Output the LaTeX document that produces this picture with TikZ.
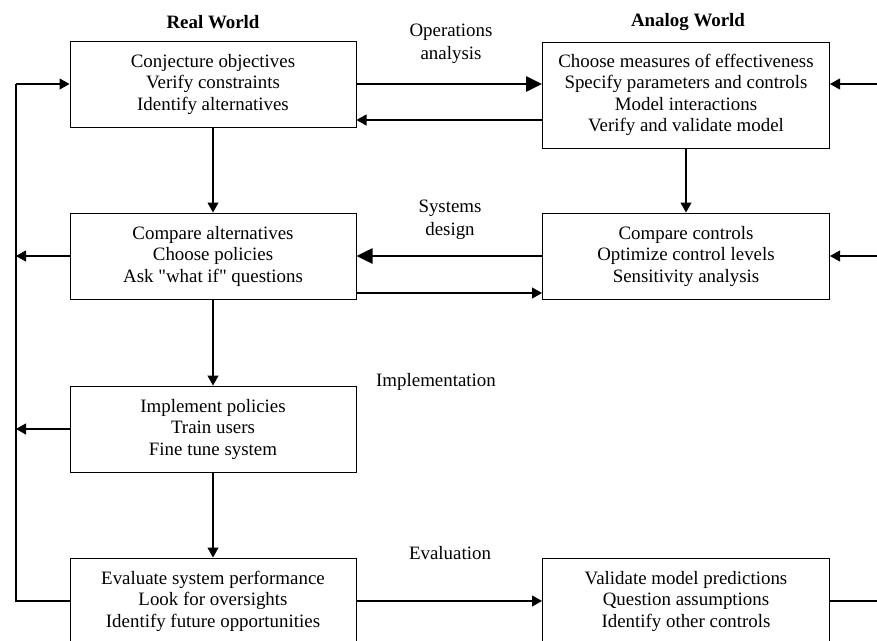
\documentclass[tikz,border=0pt]{standalone}
\usepackage{fontspec}
\setmainfont{Liberation Serif}
\usetikzlibrary{arrows.meta}
\begin{document}
\begin{tikzpicture}[x=1pt,y=-1pt,
  box/.style={draw, line width=1pt, minimum width=286pt, minimum height=86pt, inner sep=0pt, align=center,
              font=\fontsize{18.9}{21.5}\selectfont},
  lbl/.style={align=center, font=\fontsize{18.9}{23}\selectfont},
  hdr/.style={font=\fontsize{18.9}{22}\selectfont\bfseries},
  arr/.style={line width=1.1pt, -{Triangle[length=10pt,width=11pt]}},
  thickarr/.style={line width=2.6pt, -{Triangle[length=16pt,width=15pt]}},
  ln/.style={line width=1.1pt}]
\useasboundingbox (0,0) rectangle (877,640);

\node[hdr] (hr) at (213,22) {Real World};
\node[hdr] (ha) at (688,22) {Analog World};

\node[box] (A) at (213,84) {Conjecture objectives\\Verify constraints\\Identify alternatives};
\node[box, minimum width=287pt, minimum height=106pt] (B) at (686,95) {Choose measures of effectiveness\\Specify parameters and controls\\Model interactions\\Verify and validate model};
\node[box] (C) at (213,256) {Compare alternatives\\Choose policies\\Ask \textquotedbl what if\textquotedbl{} questions};
\node[box, minimum width=287pt] (D) at (686,256) {Compare controls\\Optimize control levels\\Sensitivity analysis};
\node[box] (I) at (213,429) {Implement policies\\Train users\\Fine tune system};
\node[box] (E) at (213,601) {Evaluate system performance\\Look for oversights\\Identify future opportunities};
\node[box, minimum width=287pt] (V) at (686,601) {Validate model predictions\\Question assumptions\\Identify other controls};

\node[lbl] (l1) at (451,44) {Operations\\analysis};
\node[lbl] (l2) at (450,220) {Systems\\design};
\node[lbl] (l3) at (436,382) {Implementation};
\node[lbl] (l4) at (450,553) {Evaluation};

% top row
\draw[thickarr] (A.east) -- (A.east -| B.west);
\coordinate (b1) at ([yshift=-25pt]B.west);
\draw[arr] (b1) -- (b1 -| A.east);
% second row
\draw[thickarr] (D.west) -- (D.west -| C.east);
\coordinate (c1) at ([yshift=-37pt]C.east);
\draw[arr] (c1) -- (c1 -| D.west);
% verticals
\draw[arr] (A.south) -- (C.north);
\draw[arr] (B.south) -- (D.north);
\draw[arr] (C.south) -- (I.north);
\draw[arr] (I.south) -- (E.north);
% bottom row
\draw[arr] (E.east) -- (E.east -| V.west);

% left feedback loop
\coordinate (lb) at (16,601);
\coordinate (lt) at (16,84);
\draw[ln] (E.west) -- (lb) -- (lt);
\draw[arr] (lt) -- (A.west);
\draw[arr] (C.west) -- (C.west -| lb);
\draw[arr] (I.west) -- (I.west -| lb);

% right feedback loop (vertical runs beyond the picture edge)
\coordinate (rx) at (877,0);
\draw[ln] (V.east) -- (V.east -| rx);
\draw[arr] (A.east -| rx) -- (A.east -| B.east);
\draw[arr] (D.east -| rx) -- (D.east);
\end{tikzpicture}
\end{document}
